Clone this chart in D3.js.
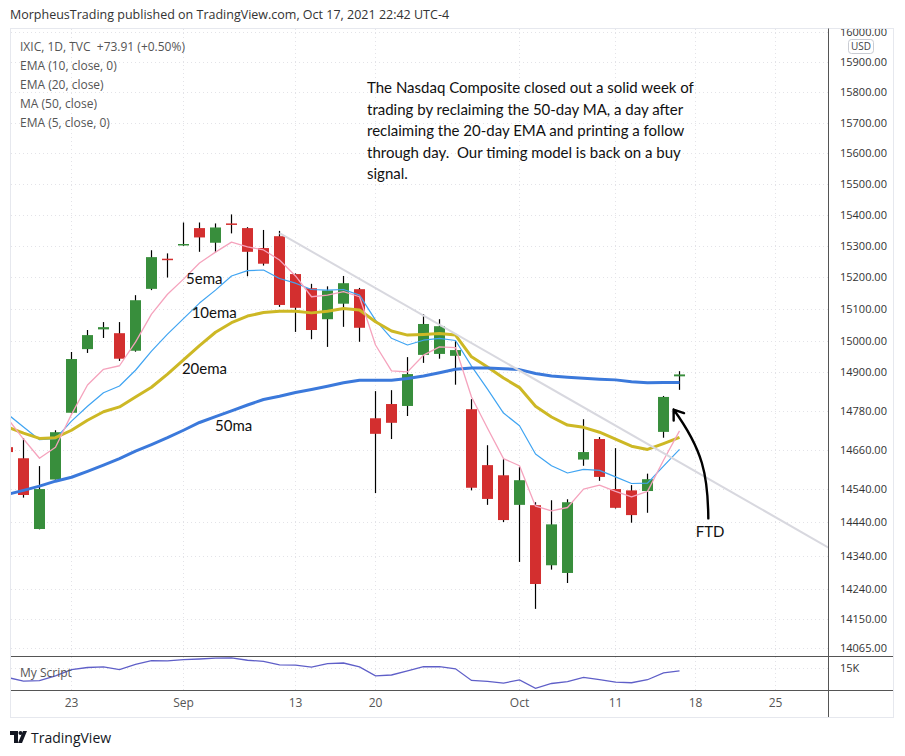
<!DOCTYPE html>
<html>
<head>
<meta charset="utf-8">
<script src="https://cdn.jsdelivr.net/npm/d3@7"></script>
<style>
  body { margin: 0; background: #fff; }
  svg text { font-family: "Open Sans", "Noto Sans", sans-serif; white-space: pre; }
  .note { font-family: Lato, "Open Sans", sans-serif !important; fill: #111; }
</style>
</head>
<body>
<div id="chart"></div>
<script>
// trading sessions (the last ten are future days, used only for the time axis)
const sessions = [
  '2021-08-17','2021-08-18','2021-08-19','2021-08-20','2021-08-23','2021-08-24','2021-08-25','2021-08-26','2021-08-27',
  '2021-08-30','2021-08-31','2021-09-01','2021-09-02','2021-09-03','2021-09-07','2021-09-08','2021-09-09','2021-09-10',
  '2021-09-13','2021-09-14','2021-09-15','2021-09-16','2021-09-17','2021-09-20','2021-09-21','2021-09-22','2021-09-23',
  '2021-09-24','2021-09-27','2021-09-28','2021-09-29','2021-09-30','2021-10-01','2021-10-04','2021-10-05','2021-10-06',
  '2021-10-07','2021-10-08','2021-10-11','2021-10-12','2021-10-13','2021-10-14','2021-10-15',
  '2021-10-18','2021-10-19','2021-10-20','2021-10-21','2021-10-22','2021-10-25','2021-10-26','2021-10-27','2021-10-28','2021-10-29'
];

// IXIC daily OHLC
const opens  = [14669,14635,14420,14570,14775,14973,15035,15023,14968,15163,15259,15304,15357,15310,15372,15357,15293,15331,
                15210,15165,15067,15116,15162,14758,14802,14796,14955,14958,14952,14786,14614,14583,14493,14492,14311,14288,
                14631,14694,14541,14537,14535,14716,14888];
const highs  = [14675,14697,14611,14721,14964,15033,15058,15058,15143,15286,15276,15375,15375,15372,15401,15360,15351,15348,
                15212,15179,15171,15204,15166,14842,14845,14948,15083,15067,14998,14817,14675,14632,14609,14501,14507,14510,
                14755,14700,14666,14553,14588,14827,14904];
const lows   = [14648,14515,14419,14570,14774,14961,15008,14936,14965,15159,15199,15300,15281,15279,15340,15203,15237,15106,
                15027,15004,14980,15043,14996,14529,14694,14765,14930,14943,14862,14537,14493,14441,14321,14181,14298,14258,
                14612,14566,14482,14439,14469,14698,14846];
const closes = [14654,14523,14541,14715,14942,15017,15042,14943,15127,15264,15256,15306,15327,15359,15370,15281,15243,15112,
                15103,15033,15158,15181,15040,14710,14744,14895,15052,15045,14970,14545,14511,14447,14568,14255,14434,14501,
                14654,14578,14484,14462,14571,14824,14894];

// indicator lines
const ema5  = [14758,14694,14635,14669,14770,14861,14910,14921,14995,15083,15146,15194,15245,15280,15312,15297,15287,15255,
               15204,15138,15143,15154,15138,14986,14905,14902,14954,14980,14978,14824,14727,14634,14612,14489,14475,14485,
               14541,14553,14534,14517,14534,14629,14719];
const ema10 = [14771,14731,14692,14695,14749,14795,14837,14858,14907,14967,15020,15069,15118,15159,15204,15221,15223,15196,
               15181,15161,15159,15161,15143,15064,15007,14986,15001,15007,15000,14920,14848,14774,14735,14648,14612,14590,
               14601,14598,14578,14558,14559,14611,14662];
const ema20 = [14731,14712,14696,14698,14721,14752,14778,14793,14824,14854,14895,14939,14984,15026,15056,15077,15088,15092,
               15092,15087,15092,15101,15096,15059,15030,15017,15019,15022,15017,14949,14917,14883,14853,14795,14762,14737,
               14730,14715,14694,14672,14662,14680,14699];
const ma50  = [14525,14537,14550,14565,14577,14595,14614,14634,14657,14677,14698,14721,14745,14763,14781,14799,14816,14826,
               14838,14847,14857,14868,14876,14876,14876,14881,14889,14899,14910,14914,14914,14912,14909,14897,14889,14885,
               14882,14879,14877,14871,14868,14869,14869];

const priceTicks = [16000,15900,15800,15700,15600,15500,15400,15300,15200,15100,15000,
                    14900,14780,14660,14540,14440,14340,14240,14150,14065];
const dateTicks = ['2021-08-23','2021-09-01','2021-09-13','2021-09-20','2021-10-01','2021-10-11','2021-10-18','2021-10-25'];
const dateTickLabels = ['23','Sep','13','20','Oct','11','18','25'];
const subTicks = [15000];
const subTickLabels = ['15K'];

// trend line drawn from the Sep 10 high, running past the right edge
const trendSlots = [17, 52];
const trendPrices = [15341, 14345];

const noteLines = [
  'The Nasdaq Composite closed out a solid week of',
  'trading by reclaiming the 50-day MA, a day after',
  'reclaiming the 20-day EMA and printing a follow',
  'through day.  Our timing model is back on a buy',
  'signal.'
];
const maLabels = [
  { text: '5ema',  slot: 11.16, price: 15177 },
  { text: '10ema', slot: 11.51, price: 15070 },
  { text: '20ema', slot: 10.9,  price: 14895 },
  { text: '50ma',  slot: 12.97, price: 14720 },
  { text: 'FTD',   slot: 43.01, price: 14395 }
];
const legendLines = ['IXIC, 1D, TVC  +73.91 (+0.50%)', 'EMA (10, close, 0)', 'EMA (20, close)', 'MA (50, close)', 'EMA (5, close, 0)'];

// ---- layout
const W = 905, H = 756;
const pane = { left: 11, right: 828, top: 29, bottom: 656 };
const sub = { top: 656, bottom: 690 };
const axisRight = 893, timeBottom = 717;

const svg = d3.select('#chart').append('svg')
  .attr('width', W).attr('height', H)
  .style('display', 'block');

const slot = d => sessions.indexOf(d);

const x = d3.scaleLinear().domain([0.219, 51.28]).range([pane.left, pane.right]);
const y = d3.scaleLog().domain([14041.9, 16010.2]).range([pane.bottom, pane.top]);
const ySub = d3.scaleLinear().domain([14197, 15436]).range([sub.bottom, sub.top]);

const defs = svg.append('defs');
defs.append('clipPath').attr('id', 'clip-main')
  .append('rect').attr('x', pane.left).attr('y', pane.top)
  .attr('width', pane.right - pane.left).attr('height', pane.bottom - pane.top);
defs.append('clipPath').attr('id', 'clip-sub')
  .append('rect').attr('x', pane.left).attr('y', sub.top)
  .attr('width', pane.right - pane.left).attr('height', sub.bottom - sub.top);
defs.append('clipPath').attr('id', 'clip-axis')
  .append('rect').attr('x', pane.right).attr('y', pane.top)
  .attr('width', axisRight - pane.right).attr('height', pane.bottom - pane.top);

// header
svg.append('text')
  .attr('x', 10).attr('y', 18.5)
  .style('font-size', '12.5px').style('fill', '#333')
  .text('MorpheusTrading published on TradingView.com, Oct 17, 2021 22:42 UTC-4');

// grid
const grid = svg.append('g');
grid.selectAll('.hgrid').data(priceTicks).join('line')
  .attr('x1', pane.left).attr('x2', pane.right)
  .attr('y1', d => Math.round(y(d)) + 0.5).attr('y2', d => Math.round(y(d)) + 0.5)
  .attr('stroke', '#e3e3e8').attr('stroke-dasharray', '1,3');
grid.selectAll('.vgrid').data(dateTicks).join('line')
  .attr('x1', d => x(slot(d))).attr('x2', d => x(slot(d)))
  .attr('y1', pane.top).attr('y2', sub.bottom)
  .attr('stroke', '#e3e3e8').attr('stroke-dasharray', '1,3');
grid.selectAll('.sgrid').data(subTicks).join('line')
  .attr('x1', pane.left).attr('x2', pane.right)
  .attr('y1', d => Math.round(ySub(d)) + 0.5).attr('y2', d => Math.round(ySub(d)) + 0.5)
  .attr('stroke', '#e3e3e8').attr('stroke-dasharray', '1,3');

// candles
const candles = opens.map((o, i) => ({ i, o, h: highs[i], l: lows[i], c: closes[i] }));
const main = svg.append('g').attr('clip-path', 'url(#clip-main)');
const bw = 11;
main.selectAll('.wick').data(candles).join('line')
  .attr('x1', d => x(d.i)).attr('x2', d => x(d.i))
  .attr('y1', d => y(d.h)).attr('y2', d => y(d.l))
  .attr('stroke', '#000').attr('stroke-width', 1.2);
main.selectAll('.body').data(candles).join('rect')
  .attr('x', d => x(d.i) - bw / 2)
  .attr('y', d => y(Math.max(d.o, d.c)))
  .attr('width', bw)
  .attr('height', d => Math.max(1.5, Math.abs(y(d.o) - y(d.c))))
  .attr('fill', d => d.c >= d.o ? '#388e3c' : '#d32f2f');

// moving averages
const lineOf = arr => d3.line().x((_, i) => x(i)).y(v => y(v))(arr);
const mas = [
  { data: ema10, color: '#3fa4f2', width: 1.2 },
  { data: ema20, color: '#cdb825', width: 3 },
  { data: ma50,  color: '#3b79db', width: 3 },
  { data: ema5,  color: '#f5a3bd', width: 1.3 }
];
main.selectAll('.ma').data(mas).join('path')
  .attr('d', d => lineOf(d.data))
  .attr('fill', 'none')
  .attr('stroke', d => d.color)
  .attr('stroke-width', d => d.width)
  .attr('stroke-linejoin', 'round');

// trend line
main.append('line')
  .attr('x1', x(trendSlots[0])).attr('y1', y(trendPrices[0]))
  .attr('x2', x(trendSlots[1])).attr('y2', y(trendPrices[1]))
  .attr('stroke', '#d8d8df').attr('stroke-width', 2);

// text notes
main.selectAll('.malabel').data(maLabels).join('text')
  .attr('class', 'note')
  .attr('x', d => x(d.slot)).attr('y', d => y(d.price))
  .style('font-size', '15px')
  .text(d => d.text);

const note = main.append('text').attr('class', 'note')
  .attr('x', x(22.47)).attr('y', y(15797))
  .style('font-size', '15px');
note.selectAll('tspan').data(noteLines).join('tspan')
  .attr('x', x(22.47))
  .attr('dy', (_, i) => i === 0 ? 0 : 21.5)
  .text(d => d);

// FTD arrow
const a0 = [x(43.8), y(14452)], a1 = [x(43.78), y(14583)], a2 = [x(43.47), y(14660)], a3 = [x(41.63), y(14785)];
const ap = d3.path();
ap.moveTo(a0[0], a0[1]);
ap.bezierCurveTo(a1[0], a1[1], a2[0], a2[1], a3[0], a3[1]);
const ang = Math.atan2(a2[1] - a3[1], a2[0] - a3[0]);
const hl = 11, spread = 0.62;
ap.moveTo(a3[0] + hl * Math.cos(ang - spread), a3[1] + hl * Math.sin(ang - spread));
ap.lineTo(a3[0], a3[1]);
ap.lineTo(a3[0] + hl * Math.cos(ang + spread), a3[1] + hl * Math.sin(ang + spread));
main.append('path').attr('d', ap.toString())
  .attr('fill', 'none').attr('stroke', '#000').attr('stroke-width', 2.4)
  .attr('stroke-linecap', 'round').attr('stroke-linejoin', 'round');

// legend
svg.append('g').selectAll('text').data(legendLines).join('text')
  .attr('x', 20).attr('y', (_, i) => 51 + i * 19)
  .style('font-size', '12px').style('fill', '#555')
  .text(d => d);

// sub pane: My Script
const subG = svg.append('g').attr('clip-path', 'url(#clip-sub)');
subG.append('path')
  .attr('d', d3.line().x((_, i) => x(i)).y(v => ySub(v))(closes))
  .attr('fill', 'none').attr('stroke', '#5f5fc8').attr('stroke-width', 1.3);
svg.append('text').attr('x', 20).attr('y', 676.5)
  .style('font-size', '12px').style('fill', '#555').text('My Script');

// price axis
const axisG = svg.append('g').attr('clip-path', 'url(#clip-axis)');
axisG.selectAll('text').data(priceTicks).join('text')
  .attr('x', 840).attr('y', d => y(d) + 4)
  .style('font-size', '11px').style('fill', '#333')
  .text(d => d.toFixed(2));
svg.append('rect').attr('x', 848.5).attr('y', 39.5).attr('width', 25).attr('height', 14).attr('rx', 3)
  .attr('fill', '#fff').attr('stroke', '#c9ccd3');
svg.append('text').attr('x', 861).attr('y', 50).attr('text-anchor', 'middle')
  .style('font-size', '10px').style('fill', '#444').text('USD');
svg.selectAll('.subtick').data(subTicks).join('text')
  .attr('x', 840).attr('y', d => ySub(d) + 4)
  .style('font-size', '11px').style('fill', '#333')
  .text((_, i) => subTickLabels[i]);

// time axis
svg.append('g').selectAll('text').data(dateTicks).join('text')
  .attr('x', d => x(slot(d))).attr('y', 707)
  .attr('text-anchor', 'middle')
  .style('font-size', '12px').style('fill', '#555')
  .text((_, i) => dateTickLabels[i]);

// frames
svg.append('rect').attr('x', 10.5).attr('y', 28.5)
  .attr('width', axisRight - 10).attr('height', timeBottom - 28)
  .attr('fill', 'none').attr('stroke', '#e6e8ee');
svg.append('line').attr('x1', pane.right + 0.5).attr('x2', pane.right + 0.5)
  .attr('y1', 28.5).attr('y2', timeBottom)
  .attr('stroke', '#555');
[sub.top, sub.bottom].forEach(v => {
  svg.append('line').attr('x1', pane.left).attr('x2', axisRight)
    .attr('y1', v + 0.5).attr('y2', v + 0.5).attr('stroke', '#555');
});

// TradingView logo
const logo = svg.append('g').attr('transform', 'translate(10,731)');
logo.append('path').attr('d', 'M0,0 H8 V12 H4 V4 H0 Z').attr('fill', '#131722');
logo.append('circle').attr('cx', 10.5).attr('cy', 2).attr('r', 2).attr('fill', '#131722');
logo.append('path').attr('d', 'M13,0 H17 L12,12 H8 Z').attr('fill', '#131722');
svg.append('text').attr('x', 31).attr('y', 743)
  .style('font-size', '14px').style('fill', '#131722')
  .text('TradingView');
</script>
</body>
</html>
